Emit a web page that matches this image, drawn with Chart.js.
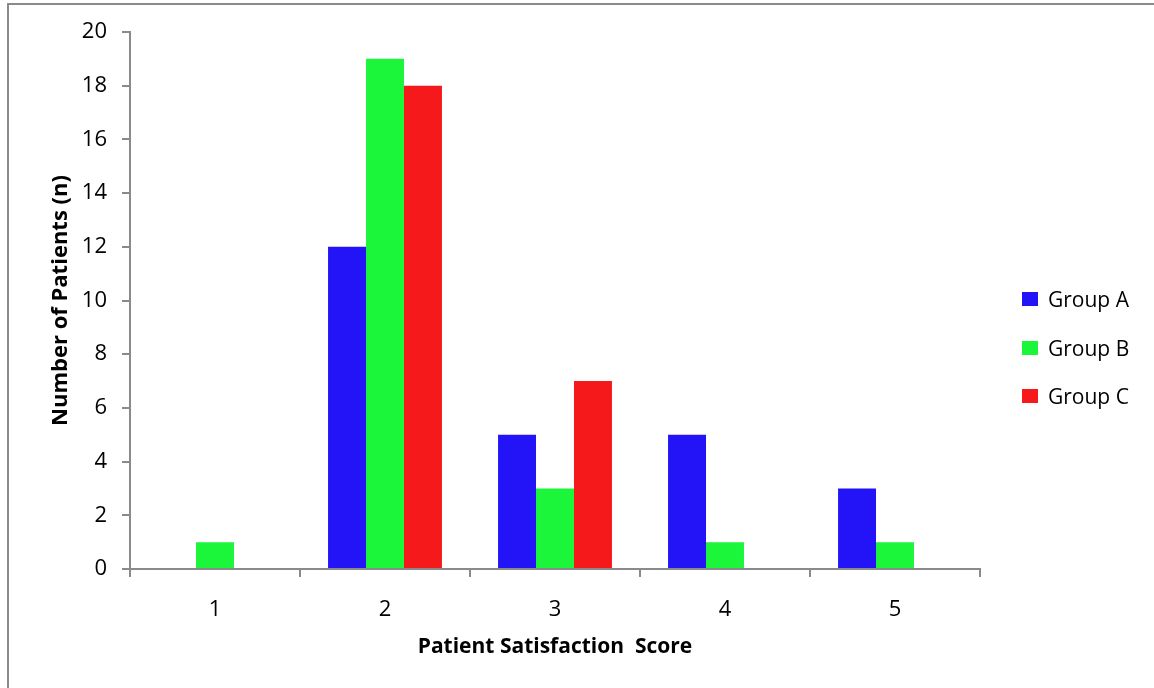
<!DOCTYPE html>
<html lang="en">
<head>
    <meta charset="UTF-8" />
    <title>Patient Satisfaction Score</title>
    <script src="https://cdn.jsdelivr.net/npm/chart.js"></script>
    <style>
        body {
            margin: 0;
            background: #fff;
            width: 1154px;
            height: 688px;
            overflow: hidden;
            position: relative;
            font-family: "Open Sans", sans-serif;
        }
        .frame {
            position: absolute;
            left: 7px;
            top: 3px;
            width: 1200px;
            height: 720px;
            border-left: 2px solid #8a8a8a;
            border-top: 2px solid #8a8a8a;
        }
        canvas {
            position: absolute;
            left: 0;
            top: 0;
        }
        #legend {
            position: absolute;
            left: 1022px;
            top: 284px;
        }
        .item {
            height: 48.5px;
            line-height: 30px;
            display: flex;
            align-items: flex-start;
            font-size: 21px;
            color: #000;
        }
        .box {
            width: 16px;
            height: 14px;
            margin-top: 8px;
            margin-right: 10px;
        }
    </style>
</head>
<body>
    <div class="frame"></div>
    <canvas id="chart" width="1154" height="688"></canvas>
    <div id="legend"></div>

    <script>
        // data
        const scores = ['1', '2', '3', '4', '5'];
        const groupA = [0, 12, 5, 5, 3];
        const groupB = [1, 19, 3, 1, 1];
        const groupC = [0, 18, 7, 0, 0];
        const groupNames = ['Group A', 'Group B', 'Group C'];
        const groupColors = ['#2214f7', '#1bf53a', '#f5191b'];

        const axisColor = '#8a8a8a';
        const fontFamily = '"Open Sans", sans-serif';

        const ctx = document.getElementById('chart').getContext('2d');
        const chart = new Chart(ctx, {
            type: 'bar',
            data: {
                labels: scores,
                datasets: [groupA, groupB, groupC].map((d, i) => ({
                    label: groupNames[i],
                    data: d,
                    backgroundColor: groupColors[i],
                    borderWidth: 0,
                    categoryPercentage: 0.67,
                    barPercentage: 1.0
                }))
            },
            options: {
                responsive: false,
                animation: false,
                layout: { padding: { top: 32, right: 174, left: 0, bottom: 0 } },
                plugins: {
                    legend: { display: false },
                    tooltip: { enabled: false }
                },
                scales: {
                    x: {
                        grid: {
                            drawOnChartArea: false,
                            color: axisColor,
                            lineWidth: 2,
                            tickLength: 8
                        },
                        border: { color: axisColor, width: 2 },
                        ticks: {
                            color: '#000',
                            padding: 20,
                            font: { family: fontFamily, size: 22 }
                        },
                        title: {
                            display: true,
                            text: 'Patient Satisfaction  Score',
                            color: '#000',
                            padding: { top: 0, bottom: 28 },
                            font: { family: fontFamily, size: 21, weight: 'bold' }
                        },
                        afterFit: (s) => { s.height = 119; }
                    },
                    y: {
                        min: 0,
                        max: 20,
                        ticks: {
                            stepSize: 2,
                            color: '#000',
                            padding: 15,
                            font: { family: fontFamily, size: 22 }
                        },
                        grid: {
                            drawOnChartArea: false,
                            color: axisColor,
                            lineWidth: 2,
                            tickLength: 8
                        },
                        border: { color: axisColor, width: 2 },
                        title: {
                            display: true,
                            text: 'Number of Patients (n)',
                            color: '#000',
                            padding: { top: 48, bottom: 0 },
                            font: { family: fontFamily, size: 22, weight: 'bold' }
                        },
                        afterFit: (s) => { s.width = 130; }
                    }
                }
            }
        });

        // legend built from the same arrays
        const legend = document.getElementById('legend');
        groupNames.forEach((name, i) => {
            const row = document.createElement('div');
            row.className = 'item';
            row.innerHTML = `<span class="box" style="background:${groupColors[i]}"></span><span>${name}</span>`;
            legend.appendChild(row);
        });
    </script>
</body>
</html>
